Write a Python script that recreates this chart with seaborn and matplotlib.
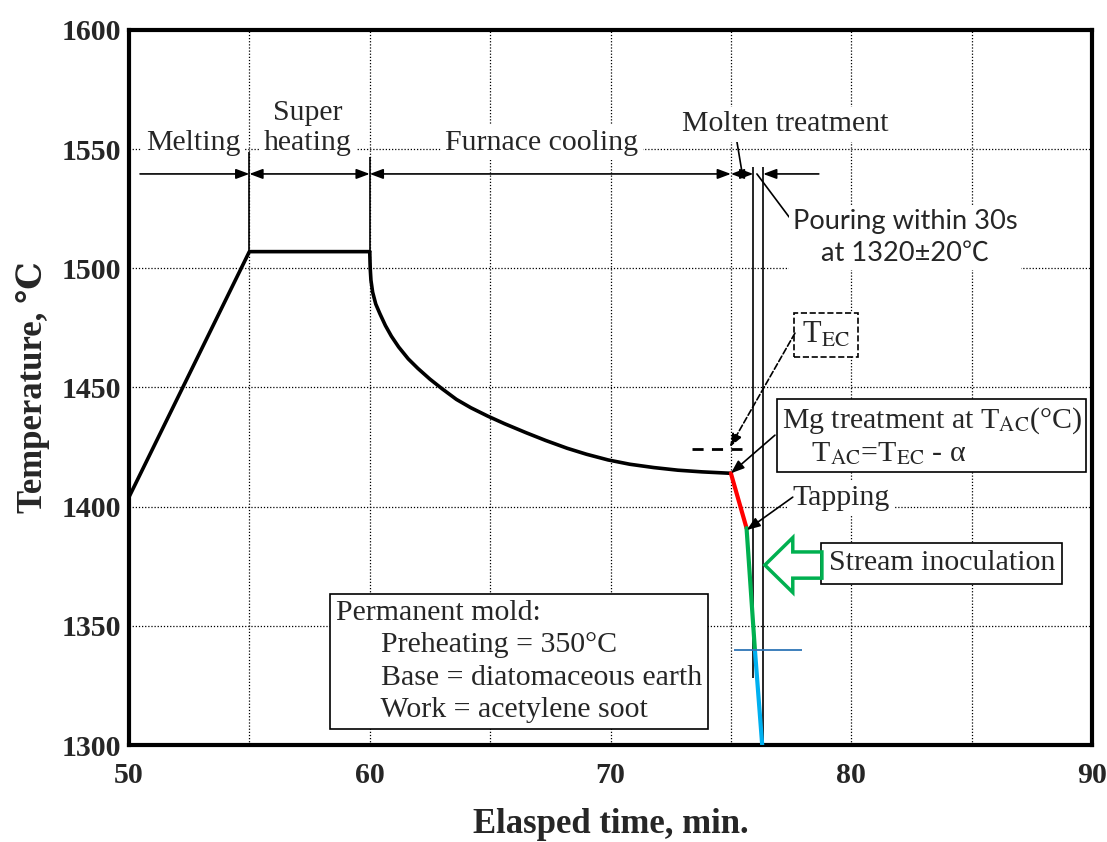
import numpy as np
import pandas as pd
import matplotlib
matplotlib.use("Agg")
import matplotlib.pyplot as plt
import matplotlib.patches as mpatches
import seaborn as sns

# temperature history
heat_time = [50, 55, 60]
heat_temp = [1404, 1507, 1507]
cool_time = [60.0, 60.02, 60.05, 60.12, 60.25, 60.42, 60.65, 60.9, 61.2, 61.6, 62.0, 62.5,
             63.0, 63.6, 64.2, 64.9, 65.6, 66.5, 67.3, 68.2, 69.0, 69.9, 70.8, 71.8, 72.8,
             73.8, 75.0]
cool_temp = [1507, 1500, 1495, 1490, 1485, 1481, 1476, 1471.5, 1467, 1462, 1458, 1453.5,
             1449.5, 1445, 1441.5, 1438, 1434.8, 1431, 1427.8, 1424.5, 1422, 1419.6, 1417.8,
             1416.4, 1415.3, 1414.6, 1414]
mg_time = [75.0, 75.65]
mg_temp = [1414, 1391]
inoc_time = [75.65, 76.0]
inoc_temp = [1391, 1339.5]
pour_time = [76.0, 76.3]
pour_temp = [1339.5, 1300]

stage_colors = {"heat": "black", "cool": "black", "mg": "#ff0000",
                "inoc": "#00b050", "pour": "#00b0f0"}

# stage boundaries used for the dimension arrows
t_melt_end = 55
t_super_end = 60
t_cool_end = 75
t_molten_end = 75.93
t_pour_end = 76.34
arrow_row = 1539.6
t_ec = 1424
inoc_mark = 1340

frames = []
for name, t, T in [("heat", heat_time, heat_temp), ("cool", cool_time, cool_temp),
                   ("mg", mg_time, mg_temp), ("inoc", inoc_time, inoc_temp),
                   ("pour", pour_time, pour_temp)]:
    frames.append(pd.DataFrame({"time": t, "temp": T, "stage": name}))
df = pd.concat(frames, ignore_index=True)

sns.set_theme(style="white")
plt.rcParams["font.family"] = ["Liberation Serif", "DejaVu Serif"]
plt.rcParams["mathtext.fontset"] = "stix"

fig = plt.figure(figsize=(11.07, 8.42), dpi=100)
ax = fig.add_axes([0.1165, 0.1152, 0.8700, 0.8492])

for name in ["heat", "cool"]:
    sns.lineplot(data=df[df.stage == name], x="time", y="temp", color=stage_colors[name],
                 lw=2.6, sort=False, estimator=None, ax=ax, zorder=4)
for name in ["mg", "inoc", "pour"]:
    sns.lineplot(data=df[df.stage == name], x="time", y="temp", color=stage_colors[name],
                 lw=3.0, sort=False, estimator=None, ax=ax, zorder=4)

ax.set_xlim(50, 90)
ax.set_ylim(1300, 1600)
ax.set_xticks(np.arange(50, 91, 10))
ax.set_xticks(np.arange(55, 90, 10), minor=True)
ax.set_yticks(np.arange(1300, 1601, 50))
ax.grid(True, which="both", color="black", ls=(0, (1, 1.5)), lw=0.9)
ax.tick_params(which="both", length=0)
ax.tick_params(axis="x", pad=12)
ax.tick_params(axis="y", pad=6)
for lab in ax.get_xticklabels() + ax.get_yticklabels():
    lab.set_fontsize(21.5)
    lab.set_fontweight("bold")
for s in ax.spines.values():
    s.set_linewidth(3)
    s.set_color("black")
ax.set_xlabel("Elasped time, min.", fontsize=25, fontweight="bold", labelpad=14)
ax.set_ylabel("Temperature, ℃", fontsize=25, fontweight="bold", labelpad=8)

# dimension arrows along the top
ah = dict(color="black", lw=1.2, shrinkA=0, shrinkB=0, mutation_scale=10)
ax.annotate("", xy=(t_melt_end, arrow_row), xytext=(50.46, arrow_row),
            arrowprops=dict(arrowstyle="-|>,head_length=0.8,head_width=0.3", **ah))
for a, b in [(t_melt_end, t_super_end), (t_super_end, t_cool_end), (t_cool_end, t_molten_end)]:
    ax.annotate("", xy=(b, arrow_row), xytext=(a, arrow_row),
                arrowprops=dict(arrowstyle="<|-|>,head_length=0.8,head_width=0.3", **ah))
ax.annotate("", xy=(t_pour_end, arrow_row), xytext=(78.65, arrow_row),
            arrowprops=dict(arrowstyle="-|>,head_length=0.8,head_width=0.3", **ah))
ax.vlines([t_melt_end], 1507, 1548.8, color="black", lw=1.2, zorder=3)
ax.vlines([t_super_end], 1507, 1546.7, color="black", lw=1.2, zorder=3)
ax.vlines([t_molten_end], 1328, 1542.5, color="black", lw=1.2, zorder=3)
ax.vlines([t_pour_end], 1300, 1542.5, color="black", lw=1.2, zorder=3)

white = dict(boxstyle="square,pad=0.15", fc="white", ec="none")
ax.text(52.66, 1552.6, "Melting", ha="center", va="center", fontsize=21.5, bbox=white)
ax.text(57.43, 1558.8, "Super\nheating", ha="center", va="center", fontsize=21.5,
        linespacing=1.22, bbox=white)
ax.text(67.15, 1552.6, "Furnace cooling", ha="center", va="center", fontsize=21.5, bbox=white)
ax.text(77.24, 1560.5, "Molten treatment", ha="center", va="center", fontsize=21.5, bbox=white)
ax.plot([75.17, 75.46], [1558, 1540.4], color="black", lw=1.2)

ax.text(82.23, 1512.9, "Pouring within 30s\nat 1320±20℃", ha="center", va="center",
        multialignment="center", fontsize=19.6, linespacing=1.35,
        family=["Lato", "Noto Sans CJK JP"], bbox=white)
ax.plot([76.08, 77.42], [1539.6, 1521.5], color="black", lw=1.2)

# T_EC marker
ax.hlines([t_ec], 73.4, 75.7, color="black", lw=2, linestyles=(0, (4, 3)), zorder=5)
ax.text(78.95, 1472, r"T$_{\rm EC}$", ha="center", va="center", fontsize=22,
        bbox=dict(boxstyle="square,pad=0.25", fc="white", ec="black", lw=1.2, ls="--"))
ax.annotate("", xy=(74.96, 1425), xytext=(77.66, 1472.8),
            arrowprops=dict(arrowstyle="-|>,head_length=0.8,head_width=0.3", color="black",
                            lw=1.2, ls="--", shrinkA=0, shrinkB=0, mutation_scale=10))

box = dict(boxstyle="square,pad=0.25", fc="white", ec="black", lw=1.2)
ax.text(77.12, 1429.5, "Mg treatment at T$_{\\rm AC}$(°C)\n    T$_{\\rm AC}$=T$_{\\rm EC}$ - α",
        ha="left", va="center", fontsize=21.5, linespacing=1.2,
        bbox=dict(boxstyle="square,pad=0.15", fc="white", ec="black", lw=1.2), zorder=6)
ax.annotate("", xy=(75.0, 1414), xytext=(76.83, 1430),
            arrowprops=dict(arrowstyle="-|>,head_length=0.8,head_width=0.3", color="black",
                            lw=1.2, shrinkA=0, shrinkB=0, mutation_scale=10), zorder=6)

ax.text(77.57, 1403.6, "Tapping", ha="left", va="center", fontsize=21.5, bbox=white)
ax.annotate("", xy=(75.66, 1390.2), xytext=(77.57, 1404),
            arrowprops=dict(arrowstyle="-|>,head_length=0.8,head_width=0.3", color="black",
                            lw=1.2, shrinkA=0, shrinkB=0, mutation_scale=10), zorder=6)

ax.text(83.76, 1376.3, "Stream inoculation", ha="center", va="center", fontsize=21.5, bbox=box)
ax.add_patch(mpatches.FancyArrow(78.78, 1375.5, 76.41 - 78.78, 0, width=11, head_width=23,
                                 head_length=1.16, length_includes_head=True, fill=False,
                                 ec="#00b050", lw=2.5, zorder=6))

ax.hlines([inoc_mark], 75.12, 77.95, color="#2e75b6", lw=1.3, zorder=5)

ax.text(58.6, 1335, "Permanent mold:\n      Preheating = 350°C\n      Base = diatomaceous earth\n"
        "      Work = acetylene soot", ha="left", va="center", fontsize=21.5,
        linespacing=1.32, bbox=dict(boxstyle="square,pad=0.2", fc="white", ec="black", lw=1.2))

fig.savefig("out.png", dpi=100)
